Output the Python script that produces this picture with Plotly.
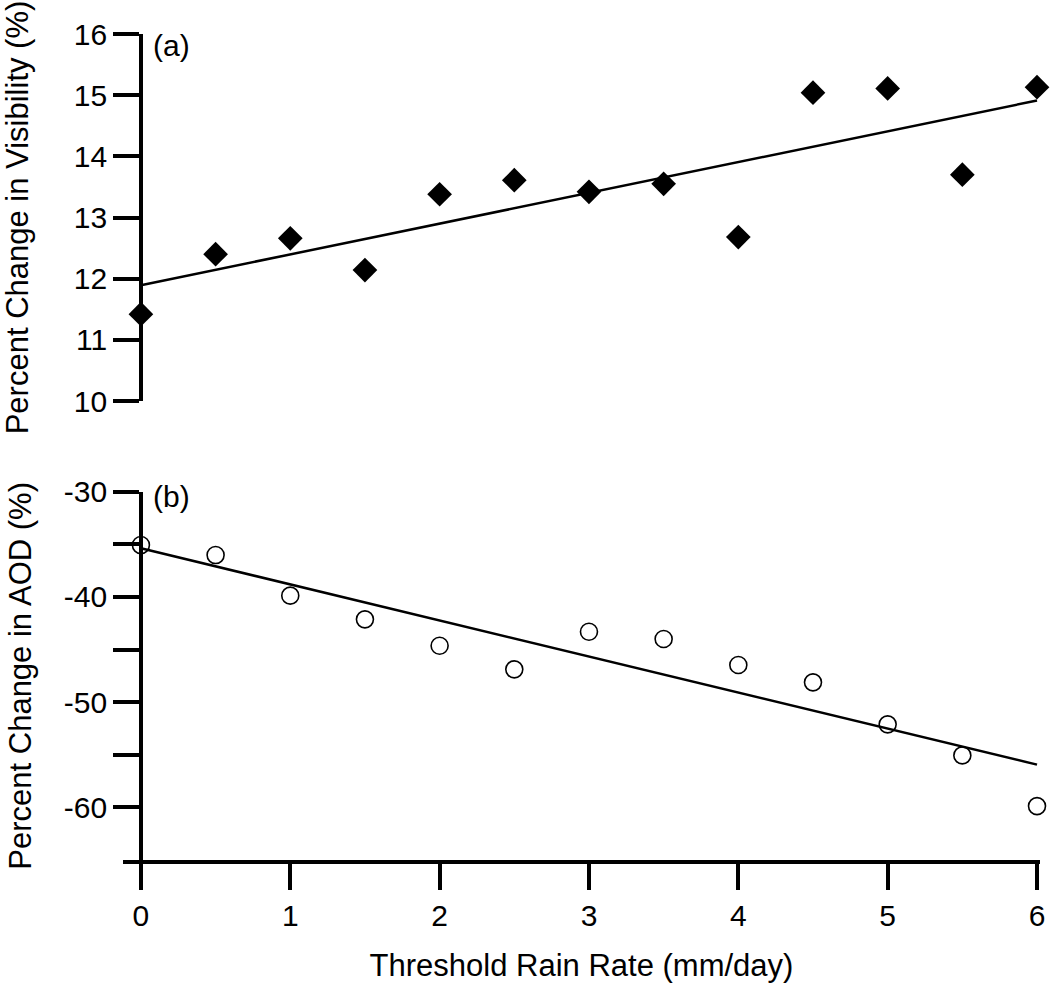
import numpy as np
import plotly.graph_objects as go

# ---- data ----
rain_rate = [0, 0.5, 1, 1.5, 2, 2.5, 3, 3.5, 4, 4.5, 5, 5.5, 6]
visibility_change = [11.42, 12.40, 12.66, 12.14, 13.38, 13.61, 13.42, 13.55,
                     12.68, 15.04, 15.11, 13.70, 15.13]
aod_change = [-35.07, -36.02, -39.88, -42.13, -44.64, -46.88, -43.31, -44.00,
              -46.47, -48.12, -52.11, -55.06, -59.88]

x_tickvals = [0, 1, 2, 3, 4, 5, 6]
x_ticktext = ["0", "1", "2", "3", "4", "5", "6"]
vis_tickvals = [10, 11, 12, 13, 14, 15, 16]
vis_ticktext = ["10", "11", "12", "13", "14", "15", "16"]
aod_tickvals = [-60, -55, -50, -45, -40, -35, -30]
aod_ticktext = ["-60", "", "-50", "", "-40", "", "-30"]

# linear fits
vis_fit = np.polyfit(rain_rate, visibility_change, 1)
aod_fit = np.polyfit(rain_rate, aod_change, 1)
fit_x = [rain_rate[0], rain_rate[-1]]
vis_fit_y = list(np.polyval(vis_fit, fit_x))
aod_fit_y = list(np.polyval(aod_fit, fit_x))

FONT = "Liberation Sans, Arial, sans-serif"
W, H = 1050, 983
ml, mr, mt, mb = 123, 10, 34, 123
plot_w = W - ml - mr
plot_h = H - mt - mb
xrange_ = [-0.12, 6.02]
ypos = (0 - xrange_[0]) / (xrange_[1] - xrange_[0])

fig = go.Figure()
fig.add_trace(go.Scatter(x=fit_x, y=vis_fit_y, mode="lines",
                         line=dict(color="black", width=2.5),
                         xaxis="x", yaxis="y", showlegend=False))
fig.add_trace(go.Scatter(x=rain_rate, y=visibility_change, mode="markers",
                         marker=dict(symbol="diamond", size=19, color="black",
                                     line=dict(width=0)),
                         cliponaxis=False, xaxis="x", yaxis="y", showlegend=False))
fig.add_trace(go.Scatter(x=fit_x, y=aod_fit_y, mode="lines",
                         line=dict(color="black", width=2.5),
                         xaxis="x2", yaxis="y2", showlegend=False))
fig.add_trace(go.Scatter(x=rain_rate, y=aod_change, mode="markers",
                         marker=dict(symbol="circle-open", size=17, color="black",
                                     line=dict(width=1.6, color="black")),
                         cliponaxis=False, xaxis="x2", yaxis="y2", showlegend=False))

axis_common = dict(showline=True, linecolor="black", linewidth=3.5,
                   ticks="outside", ticklen=26, tickwidth=3.5, tickcolor="black",
                   showgrid=False, zeroline=False, automargin=False,
                   tickfont=dict(family=FONT, size=30, color="black"))

top_dom = [(860 - 401) / plot_h, 1.0]
bot_dom = [0.0, (860 - 491.7) / plot_h]

fig.update_layout(
    width=W, height=H,
    margin=dict(l=ml, r=mr, t=mt, b=mb),
    paper_bgcolor="white", plot_bgcolor="white",
    font=dict(family=FONT, color="black"),
    xaxis=dict(domain=[0, 1], range=xrange_, visible=False, anchor="y"),
    yaxis=dict(domain=top_dom, range=[10, 16], anchor="free", position=ypos,
               tickvals=vis_tickvals, ticktext=vis_ticktext,
               title=dict(text="Percent Change in Visibility (%)",
                          font=dict(family=FONT, size=31, color="black"),
                          standoff=36),
               **axis_common),
    xaxis2=dict(domain=[0, 1], range=xrange_, anchor="y2",
                tickvals=x_tickvals, ticktext=x_ticktext,
                title=dict(text="Threshold Rain Rate (mm/day)",
                           font=dict(family=FONT, size=31, color="black"),
                           standoff=28),
                **axis_common),
    yaxis2=dict(domain=bot_dom, range=[-65, -30], anchor="free", position=ypos,
                tickvals=aod_tickvals, ticktext=aod_ticktext,
                title=dict(text="Percent Change in AOD (%)",
                           font=dict(family=FONT, size=31, color="black"),
                           standoff=22),
                **axis_common),
    annotations=[
        dict(text="(a)", x=0.07, y=15.82, xref="x", yref="y",
             xanchor="left", yanchor="middle", showarrow=False,
             font=dict(family=FONT, size=30, color="black")),
        dict(text="(b)", x=0.07, y=-30.5, xref="x2", yref="y2",
             xanchor="left", yanchor="middle", showarrow=False,
             font=dict(family=FONT, size=30, color="black")),
    ],
)

fig.write_html("out.html",
               config={"displayModeBar": False},
               post_script="document.body.style.margin='0';"
                           "document.body.style.overflow='hidden';")
